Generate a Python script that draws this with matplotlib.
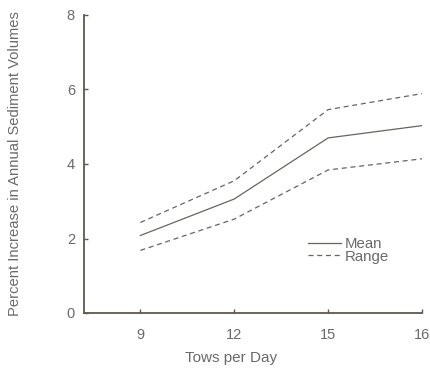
import matplotlib.pyplot as plt
import numpy as np

plt.rcParams['font.family'] = ['Liberation Sans', 'DejaVu Sans']

# tows per day and sediment increase (%)
tows = ['9', '12', '15', '16']
mean_vals = [2.08, 3.06, 4.70, 5.03]
range_hi = [2.43, 3.55, 5.46, 5.89]
range_lo = [1.68, 2.52, 3.84, 4.14]

axis_col = '#5e5852'
text_col = '#6a6a6a'
line_col = '#66665f'

fig = plt.figure(figsize=(4.31, 3.68), dpi=100)
ax = fig.add_axes([84 / 431, 55 / 368, 338 / 431, 298 / 368])

x = np.arange(len(tows))
ax.plot(x, mean_vals, color=line_col, linewidth=0.9, label='Mean')
ax.plot(x, range_hi, color=line_col, linewidth=0.9, linestyle=(0, (4, 3)), label='Range')
ax.plot(x, range_lo, color=line_col, linewidth=0.9, linestyle=(0, (4, 3)))

ax.set_xlim(-0.6, 3)
ax.set_ylim(0, 8)
ax.set_xticks(x)
ax.set_xticklabels(tows)
ax.set_yticks([0, 2, 4, 6, 8])

for side in ['top', 'right']:
    ax.spines[side].set_visible(False)
for side in ['left', 'bottom']:
    ax.spines[side].set_color(axis_col)
    ax.spines[side].set_linewidth(1.3)

ax.tick_params(direction='in', length=3, width=1, color=axis_col,
               labelcolor=text_col, labelsize=10.5)
ax.tick_params(axis='x', pad=11)
ax.tick_params(axis='y', pad=6.5)

ax.set_xlabel('Tows per Day', fontsize=11, color=text_col)
ax.xaxis.set_label_coords(0.435, -0.128)
ax.set_ylabel('Percent Increase in Annual Sediment Volumes', fontsize=10.6,
              color=text_col)
ax.yaxis.set_label_coords(-0.182, 0.5)

ax.legend(loc='upper left', bbox_to_anchor=(0.64, 0.28), frameon=False,
          fontsize=10.8, handlelength=2.2, handletextpad=0.25, labelspacing=-0.1,
          labelcolor=text_col, borderpad=0)

plt.savefig('out.png', dpi=100, facecolor='white')
